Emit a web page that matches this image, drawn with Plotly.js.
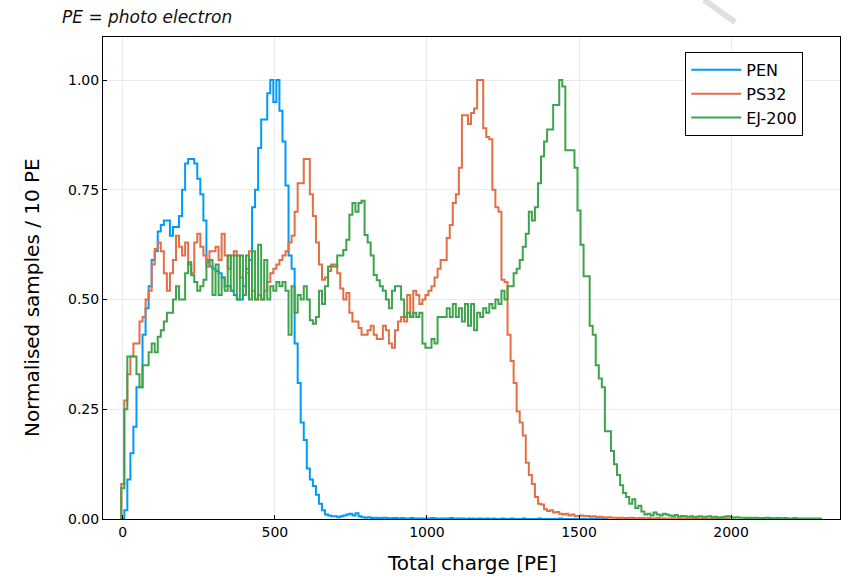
<!DOCTYPE html>
<html>
<head>
<meta charset="utf-8">
<script src="https://cdn.plot.ly/plotly-3.0.1.min.js"></script>
<style>html,body{margin:0;padding:0;background:#fff;}#chart{width:848px;height:576px;}</style>
</head>
<body>
<div id="chart"></div>
<script>
// Histogram bins: 10 PE wide, first bin centred at 0 PE
const binWidth = 10;
const firstCenter = 0;

const seriesNames = ["PEN", "PS32", "EJ-200"];
const seriesColors = ["#009af9", "#e26f46", "#3da44d"];

const PEN = [
  0, 0.02, 0.09, 0.15, 0.21, 0.30, 0.30, 0.42, 0.48, 0.53,
  0.59, 0.61, 0.655, 0.67, 0.68, 0.68, 0.645, 0.665, 0.665, 0.69,
  0.75, 0.81, 0.82, 0.82, 0.81, 0.775, 0.74, 0.68, 0.59, 0.575,
  0.57, 0.565, 0.56, 0.55, 0.53, 0.53, 0.52, 0.51, 0.50, 0.50,
  0.53, 0.57, 0.59, 0.71, 0.75, 0.845, 0.91, 0.91, 0.97, 1.0,
  0.95, 1.0, 0.93, 0.86, 0.76, 0.60, 0.57, 0.40, 0.31, 0.22,
  0.18, 0.115, 0.09, 0.075, 0.055, 0.035, 0.02, 0.01, 0.008, 0.006,
  0.006, 0.004, 0.006, 0.008, 0.01, 0.012, 0.008, 0.013, 0.006, 0.004,
  0.003, 0.004, 0.002, 0.003, 0.002, 0.002, 0.003, 0.002, 0.001, 0.002,
  0.002, 0.001, 0.002, 0.001, 0.001, 0.002, 0.001, 0.001, 0.001, 0.001,
  0.001, 0.001, 0.002, 0.001, 0.001, 0.001, 0.001, 0.001, 0.002, 0.001,
  0.001, 0.001, 0.001, 0, 0.001, 0.001, 0, 0.001, 0.001, 0,
  0.001, 0, 0.001, 0, 0, 0.001, 0, 0, 0.001, 0,
  0, 0, 0.001, 0, 0, 0, 0, 0.001, 0, 0,
  0, 0, 0, 0, 0.001, 0, 0, 0, 0, 0,
  0, 0, 0, 0, 0, 0, 0, 0, 0, 0.001
];

const PS32 = [
  0.08, 0.27, 0.33, 0.37, 0.40, 0.40, 0.45, 0.46, 0.50, 0.52,
  0.58, 0.615, 0.63, 0.61, 0.56, 0.52, 0.56, 0.59, 0.645, 0.62,
  0.60, 0.63, 0.58, 0.56, 0.63, 0.65, 0.62, 0.60, 0.575, 0.61,
  0.61, 0.62, 0.59, 0.65, 0.60, 0.57, 0.60, 0.61, 0.60, 0.55,
  0.51, 0.56, 0.61, 0.52, 0.50, 0.51, 0.50, 0.52, 0.54, 0.56,
  0.57, 0.58, 0.59, 0.60, 0.61, 0.63, 0.645, 0.70, 0.765, 0.765,
  0.82, 0.82, 0.74, 0.69, 0.63, 0.58, 0.545, 0.55, 0.565, 0.58,
  0.58, 0.56, 0.525, 0.50, 0.515, 0.47, 0.45, 0.45, 0.435, 0.42,
  0.42, 0.43, 0.44, 0.42, 0.41, 0.41, 0.44, 0.43, 0.40, 0.39,
  0.43, 0.45, 0.46, 0.45, 0.51, 0.46, 0.52, 0.51, 0.49, 0.50,
  0.51, 0.52, 0.53, 0.55, 0.57, 0.59, 0.59, 0.64, 0.67, 0.72,
  0.74, 0.80, 0.92, 0.92, 0.90, 0.925, 0.935, 1.0, 1.0, 0.89,
  0.87, 0.865, 0.75, 0.71, 0.70, 0.545, 0.54, 0.42, 0.36, 0.31,
  0.245, 0.22, 0.19, 0.128, 0.10, 0.08, 0.05, 0.035, 0.033, 0.022,
  0.018, 0.02, 0.015, 0.016, 0.012, 0.010, 0.012, 0.008, 0.01, 0.006,
  0.007, 0.008, 0.006, 0.007, 0.005, 0.006, 0.004, 0.005, 0.004, 0.003,
  0.004, 0.003, 0.003, 0.002, 0.003, 0.002, 0.002, 0.003, 0.002, 0.001,
  0.002, 0.002, 0.001, 0.002, 0.001, 0.001, 0.002, 0.001, 0.001, 0.001,
  0.001, 0.001, 0.001, 0, 0.001, 0.001, 0, 0.001, 0, 0.001,
  0, 0.001, 0, 0, 0.001, 0, 0, 0, 0.001, 0
];

const EJ200 = [
  0.07, 0.25, 0.37, 0.37, 0.37, 0.33, 0.30, 0.35, 0.35, 0.38,
  0.40, 0.38, 0.415, 0.43, 0.45, 0.47, 0.47, 0.50, 0.53, 0.50,
  0.50, 0.56, 0.585, 0.555, 0.54, 0.52, 0.53, 0.545, 0.585, 0.59,
  0.51, 0.58, 0.51, 0.55, 0.52, 0.60, 0.52, 0.60, 0.50, 0.60,
  0.51, 0.60, 0.50, 0.61, 0.50, 0.625, 0.50, 0.59, 0.50, 0.53,
  0.52, 0.54, 0.53, 0.54, 0.52, 0.42, 0.53, 0.47, 0.51, 0.50,
  0.53, 0.50, 0.453, 0.445, 0.46, 0.52, 0.49, 0.53, 0.575, 0.575,
  0.575, 0.60, 0.60, 0.613, 0.636, 0.693, 0.72, 0.70, 0.72, 0.725,
  0.647, 0.63, 0.60, 0.556, 0.544, 0.53, 0.52, 0.50, 0.48, 0.52,
  0.53, 0.53, 0.50, 0.46, 0.47, 0.46, 0.47, 0.46, 0.47, 0.40,
  0.39, 0.39, 0.41, 0.40, 0.46, 0.46, 0.46, 0.48, 0.46, 0.49,
  0.46, 0.48, 0.45, 0.49, 0.44, 0.49, 0.43, 0.47, 0.46, 0.48,
  0.47, 0.49, 0.48, 0.50, 0.49, 0.52, 0.50, 0.53, 0.53, 0.56,
  0.57, 0.59, 0.62, 0.65, 0.70, 0.68, 0.71, 0.765, 0.826, 0.86,
  0.887, 0.887, 0.943, 0.943, 1.0, 0.985, 0.84, 0.84, 0.84, 0.80,
  0.703, 0.625, 0.553, 0.553, 0.44, 0.42, 0.35, 0.32, 0.30, 0.20,
  0.20, 0.155, 0.125, 0.10, 0.077, 0.059, 0.05, 0.035, 0.045, 0.025,
  0.03, 0.017, 0.01, 0.012, 0.008, 0.015, 0.01, 0.008, 0.012, 0.01,
  0.008, 0.006, 0.009, 0.005, 0.007, 0.006, 0.005, 0.006, 0.004, 0.005,
  0.006, 0.004, 0.005, 0.006, 0.004, 0.005, 0.003, 0.004, 0.005, 0.006,
  0.004, 0.003, 0.004, 0.003, 0.003, 0.002, 0.003, 0.002, 0.003, 0.002,
  0.002, 0.002, 0.003, 0.002, 0.001, 0.002, 0.002, 0.001, 0.002, 0.001,
  0.001, 0.002, 0.001, 0.001, 0.001, 0.001, 0.001, 0.001, 0.001, 0.001
];

const xTickVals = [0, 500, 1000, 1500, 2000];
const yTickVals = [0, 0.25, 0.5, 0.75, 1.0];
const yTickText = ["0.00", "0.25", "0.50", "0.75", "1.00"];

function stepTrace(values, name, color) {
  const xs = [], ys = [];
  const e0 = firstCenter - binWidth / 2;
  xs.push(e0); ys.push(0);
  for (let i = 0; i < values.length; i++) {
    xs.push(e0 + i * binWidth); ys.push(values[i]);
  }
  const eN = e0 + values.length * binWidth;
  xs.push(eN); ys.push(values[values.length - 1]);
  xs.push(eN); ys.push(0);
  return {
    x: xs, y: ys, type: "scatter", mode: "lines", name: name,
    line: {shape: "hv", color: color, width: 2}
  };
}

const data = [
  stepTrace(PEN, seriesNames[0], seriesColors[0]),
  stepTrace(PS32, seriesNames[1], seriesColors[1]),
  stepTrace(EJ200, seriesNames[2], seriesColors[2])
];

const axisCommon = {
  showline: true, mirror: true, linecolor: "#000", linewidth: 1,
  showgrid: true, gridcolor: "#ebebeb", gridwidth: 1,
  zeroline: false, ticks: "inside", ticklen: 4, tickcolor: "#000",
  tickfont: {family: "DejaVu Sans", size: 14, color: "#000"}
};

const layout = {
  width: 848, height: 576,
  margin: {l: 103, r: 8, t: 37, b: 57},
  paper_bgcolor: "#fff", plot_bgcolor: "#fff",
  font: {family: "DejaVu Sans", color: "#000"},
  xaxis: Object.assign({}, axisCommon, {
    range: [-65, 2358], tickvals: xTickVals
  }),
  yaxis: Object.assign({}, axisCommon, {
    range: [0, 1.098], tickvals: yTickVals, ticktext: yTickText
  }),
  showlegend: true,
  legend: {
    x: 0.79, y: 0.969, xanchor: "left", yanchor: "top",
    bgcolor: "#fff", bordercolor: "#000", borderwidth: 1,
    font: {family: "DejaVu Sans", size: 16}, itemwidth: 50,
    tracegroupgap: 0
  },
  annotations: [{
    text: "PE = photo electron", xref: "paper", yref: "paper",
    x: -0.058, y: 1.041, xanchor: "left", yanchor: "middle", showarrow: false,
    font: {family: "DejaVu Sans", size: 17, style: "italic", color: "#111"}
  }, {
    text: "Total charge [PE]", xref: "paper", yref: "paper",
    x: 0.5, y: -0.0913, xanchor: "center", yanchor: "middle", showarrow: false,
    font: {family: "DejaVu Sans", size: 20, color: "#000"}
  }, {
    text: "Normalised samples / 10 PE", xref: "paper", yref: "paper",
    x: -0.0963, y: 0.4585, xanchor: "center", yanchor: "middle", showarrow: false,
    textangle: -90,
    font: {family: "DejaVu Sans", size: 20, color: "#000"}
  }],
  shapes: [{
    type: "line", xref: "paper", yref: "paper",
    x0: 0.8155, y0: 1.077, x1: 0.8575, y1: 1.031,
    line: {color: "#e0e0e0", width: 6}
  }]
};

Plotly.newPlot("chart", data, layout, {displayModeBar: false, staticPlot: true});
</script>
</body>
</html>
